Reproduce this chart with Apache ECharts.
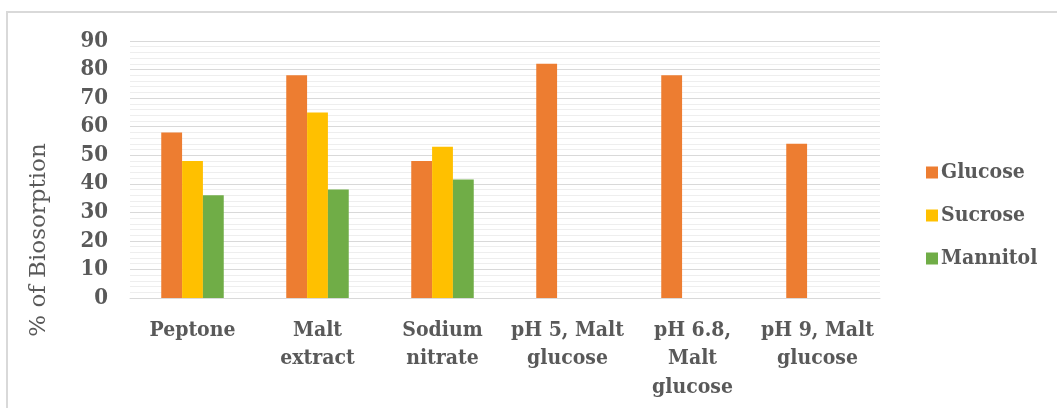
<!DOCTYPE html>
<html><head><meta charset="utf-8">
<script src="https://cdn.jsdelivr.net/npm/echarts@6/dist/echarts.min.js"></script>
<style>html,body{margin:0;padding:0;background:#fff}#c{width:1057px;height:408px}</style>
</head><body><div id="c"></div>
<script>
const categories = ['Peptone', 'Malt\nextract', 'Sodium\nnitrate', 'pH 5, Malt\nglucose', 'pH 6.8,\nMalt\nglucose', 'pH 9, Malt\nglucose'];
const glucose = [58, 78, 48, 82, 78, 54];
const sucrose = [48, 65, 53, null, null, null];
const mannitol = [36, 38, 41.5, null, null, null];
const yTicks = [0, 10, 20, 30, 40, 50, 60, 70, 80, 90];
const yTitle = '% of Biosorption';

const font = '"DejaVu Serif Condensed", "DejaVu Serif"';
const txt = '#595959';
const chart = echarts.init(document.getElementById('c'));
chart.setOption({
  animation: false,
  backgroundColor: '#fff',
  grid: {left: 130, right: 177, top: 41, bottom: 110},
  legend: {
    orient: 'vertical', left: 921, top: 157, itemWidth: 12, itemHeight: 12, itemGap: 22,
    icon: 'rect',
    textStyle: {fontFamily: font, fontWeight: 'bold', fontSize: 21, color: txt, padding: [0,0,0,-2]},
    data: ['Glucose', 'Sucrose', 'Mannitol']
  },
  xAxis: {
    type: 'category', data: categories,
    axisLine: {show: true, lineStyle: {color: '#d9d9d9', width: 1}},
    axisTick: {show: false},
    axisLabel: {fontFamily: font, fontWeight: 'bold', fontSize: 21, color: txt, lineHeight: 28.5, margin: 18, interval: 0}
  },
  yAxis: {
    type: 'value', min: yTicks[0], max: yTicks[yTicks.length - 1], interval: 10,
    axisLine: {show: false}, axisTick: {show: false},
    axisLabel: {fontFamily: font, fontWeight: 'bold', fontSize: 22, color: txt, margin: 22},
    splitLine: {show: true, lineStyle: {color: '#d9d9d9', width: 1}},
    minorTick: {show: false, splitNumber: 5},
    minorSplitLine: {show: true, lineStyle: {color: '#eeeeee', width: 1}}
  },
  graphic: [
    {type: 'rect', shape: {x: 6, y: 11, width: 1060, height: 2}, style: {fill: '#d9d9d9'}, silent: true},
    {type: 'rect', shape: {x: 6, y: 11, width: 2, height: 400}, style: {fill: '#d9d9d9'}, silent: true},
    {type: 'text', x: 39, y: 240, rotation: Math.PI / 2,
     style: {text: yTitle, fontFamily: '"DejaVu Serif"', fontSize: 23, fill: txt, align: 'center', verticalAlign: 'middle'}}
  ],
  series: [
    {name: 'Glucose', type: 'bar', data: glucose, itemStyle: {color: '#ED7D31'}, barGap: '0%', barCategoryGap: '50%'},
    {name: 'Sucrose', type: 'bar', data: sucrose, itemStyle: {color: '#FFC000'}},
    {name: 'Mannitol', type: 'bar', data: mannitol, itemStyle: {color: '#70AD47'}}
  ]
});
</script></body></html>
